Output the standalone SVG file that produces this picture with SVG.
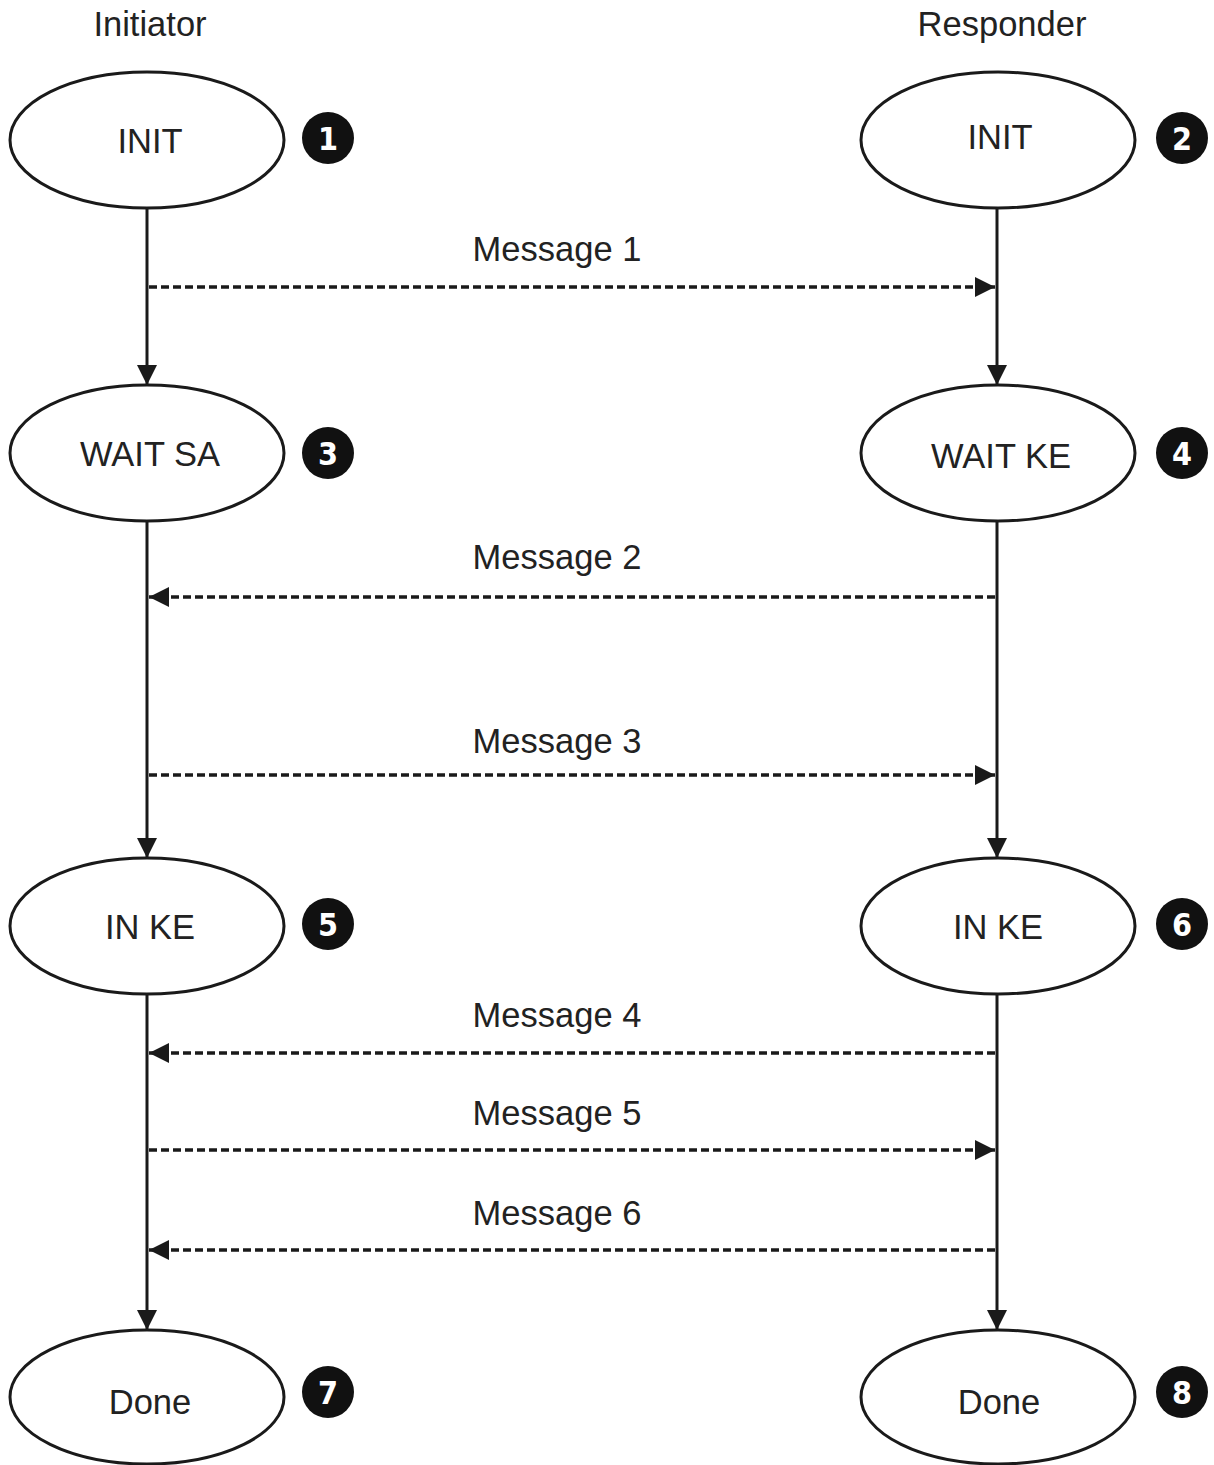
<svg xmlns="http://www.w3.org/2000/svg" width="1214" height="1465" viewBox="0 0 1214 1465">
<defs>
<style>
.st{fill:#fff;stroke:#1a1a1a;stroke-width:3}
.t{font-family:"Liberation Sans",Arial,sans-serif;font-size:34.5px;fill:#222;text-anchor:middle}
.b{fill:#111}
.bn{font-family:"DejaVu Sans","Liberation Sans",sans-serif;font-weight:bold;font-stretch:condensed;font-size:32px;fill:#fff;text-anchor:middle}
.v{stroke:#1a1a1a;stroke-width:3;fill:none}
.d{stroke:#1a1a1a;stroke-width:3.5;fill:none;stroke-dasharray:8 4}
</style>
<marker id="ah" viewBox="0 0 20 20" refX="20" refY="10" markerWidth="20" markerHeight="20" markerUnits="userSpaceOnUse" orient="auto">
<path d="M0,0 L20,10 L0,20 Z" fill="#1a1a1a"/>
</marker>
</defs>
<g id="headers">
<text class="t" x="150" y="36">Initiator</text>
<text class="t" x="1002" y="36">Responder</text>
</g>
<g id="connectors">
<line class="v" x1="147" y1="208" x2="147" y2="385" marker-end="url(#ah)"/>
<line class="v" x1="147" y1="521" x2="147" y2="858" marker-end="url(#ah)"/>
<line class="v" x1="147" y1="994" x2="147" y2="1330" marker-end="url(#ah)"/>
<line class="v" x1="997" y1="208" x2="997" y2="385" marker-end="url(#ah)"/>
<line class="v" x1="997" y1="521" x2="997" y2="858" marker-end="url(#ah)"/>
<line class="v" x1="997" y1="994" x2="997" y2="1330" marker-end="url(#ah)"/>
<line class="d" x1="149" y1="287" x2="995" y2="287" marker-end="url(#ah)"/>
<line class="d" x1="995" y1="597" x2="149" y2="597" marker-end="url(#ah)"/>
<line class="d" x1="149" y1="775" x2="995" y2="775" marker-end="url(#ah)"/>
<line class="d" x1="995" y1="1053" x2="149" y2="1053" marker-end="url(#ah)"/>
<line class="d" x1="149" y1="1150" x2="995" y2="1150" marker-end="url(#ah)"/>
<line class="d" x1="995" y1="1250" x2="149" y2="1250" marker-end="url(#ah)"/>
<text class="t" x="557" y="261">Message 1</text>
<text class="t" x="557" y="569">Message 2</text>
<text class="t" x="557" y="753">Message 3</text>
<text class="t" x="557" y="1027">Message 4</text>
<text class="t" x="557" y="1125">Message 5</text>
<text class="t" x="557" y="1225">Message 6</text>
</g>
<g id="n1">
<ellipse class="st" cx="147" cy="140" rx="137" ry="68"/>
<text class="t" x="150" y="153">INIT</text>
<circle class="b" cx="328" cy="138" r="26"/>
<text class="bn" x="328" y="150">1</text>
</g>
<g id="n2">
<ellipse class="st" cx="998" cy="140" rx="137" ry="68"/>
<text class="t" x="1000" y="149">INIT</text>
<circle class="b" cx="1182" cy="138" r="26"/>
<text class="bn" x="1182" y="150">2</text>
</g>
<g id="n3">
<ellipse class="st" cx="147" cy="453" rx="137" ry="68"/>
<text class="t" x="150" y="466">WAIT SA</text>
<circle class="b" cx="328" cy="453" r="26"/>
<text class="bn" x="328" y="465">3</text>
</g>
<g id="n4">
<ellipse class="st" cx="998" cy="453" rx="137" ry="68"/>
<text class="t" x="1001" y="468">WAIT KE</text>
<circle class="b" cx="1182" cy="453" r="26"/>
<text class="bn" x="1182" y="465">4</text>
</g>
<g id="n5">
<ellipse class="st" cx="147" cy="926" rx="137" ry="68"/>
<text class="t" x="150" y="939">IN KE</text>
<circle class="b" cx="328" cy="924" r="26"/>
<text class="bn" x="328" y="936">5</text>
</g>
<g id="n6">
<ellipse class="st" cx="998" cy="926" rx="137" ry="68"/>
<text class="t" x="998" y="939">IN KE</text>
<circle class="b" cx="1182" cy="924" r="26"/>
<text class="bn" x="1182" y="936">6</text>
</g>
<g id="n7">
<ellipse class="st" cx="147" cy="1397" rx="137" ry="67"/>
<text class="t" x="150" y="1414">Done</text>
<circle class="b" cx="328" cy="1392" r="26"/>
<text class="bn" x="328" y="1404">7</text>
</g>
<g id="n8">
<ellipse class="st" cx="998" cy="1397" rx="137" ry="67"/>
<text class="t" x="999" y="1414">Done</text>
<circle class="b" cx="1182" cy="1392" r="26"/>
<text class="bn" x="1182" y="1404">8</text>
</g>
</svg>
